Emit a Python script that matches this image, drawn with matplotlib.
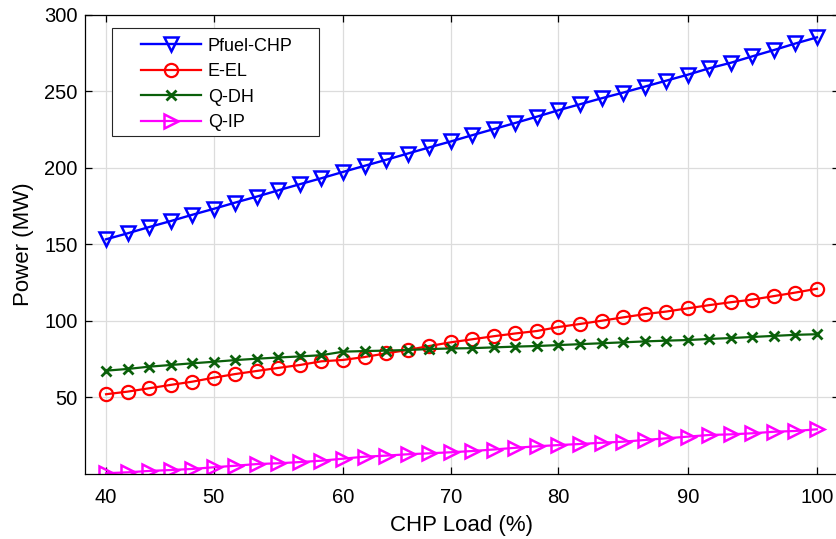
import numpy as np
import matplotlib
matplotlib.use('Agg')
import matplotlib.pyplot as plt
from matplotlib.patches import Rectangle

## data (34 load steps from 40% to 100%)
pfuel_chp = [153.3, 157.2, 161.3, 165.2, 169.3, 173.2, 177.3, 181.2, 185.3, 189.3,
             193.2, 197.3, 201.3, 205.2, 209.3, 213.3, 217.2, 221.3, 225.3, 229.3,
             233.4, 237.6, 241.5, 245.4, 249.1, 253.0, 256.9, 260.8, 265.0, 268.6,
             272.8, 276.9, 281.2, 285.2]
e_el = [52.1, 53.8, 56.0, 58.2, 60.3, 62.9, 65.3, 67.3, 69.3, 71.2,
        73.6, 74.5, 76.4, 78.8, 81.0, 83.6, 86.0, 88.0, 90.0, 91.8,
        93.4, 96.0, 98.0, 100.1, 102.3, 104.4, 106.1, 108.2, 110.3, 112.2,
        113.9, 116.2, 118.5, 121.0]
q_dh = [67.5, 68.6, 70.1, 71.2, 72.3, 73.3, 74.4, 75.3, 76.1, 76.8,
        77.6, 79.9, 80.3, 80.6, 81.0, 81.6, 82.0, 82.2, 82.7, 83.2,
        83.6, 84.2, 84.8, 85.4, 86.0, 86.6, 87.1, 87.5, 88.2, 88.8,
        89.5, 90.2, 90.9, 91.3]
q_ip = [0.5, 1.1, 2.0, 2.6, 3.3, 4.4, 5.4, 6.5, 7.0, 7.8,
        8.7, 10.0, 11.3, 12.0, 12.9, 13.5, 14.2, 15.0, 16.0, 17.1,
        18.1, 18.9, 19.6, 20.4, 21.1, 22.2, 23.3, 24.4, 25.5, 25.9,
        26.6, 27.6, 28.1, 29.2]

## x ticks sit on these sample indices
tick_idx = [0, 5, 11, 16, 21, 27, 33]
tick_lab = ['40', '50', '60', '70', '80', '90', '100']

plt.rcParams['font.family'] = ['Liberation Sans', 'DejaVu Sans']

W, H = 836, 539
fig = plt.figure(figsize=(W / 100, H / 100), dpi=100)
ax = fig.add_axes([84.5 / W, 65 / H, 754 / W, 459.3 / H])

x = np.arange(len(pfuel_chp))
ax.plot(x, pfuel_chp, color='#0000ff', lw=1.7, marker='v', ms=10, mfc='none', mew=1.8, label='Pfuel-CHP')
ax.plot(x, e_el, color='#ff0000', lw=1.6, marker='o', ms=9.5, mfc='none', mew=1.6, label='E-EL')
ax.plot(x, q_dh, color='#0a600a', lw=1.6, marker='x', ms=6.5, mew=2.0, label='Q-DH')
ax.plot(x, q_ip, color='#ff00ff', lw=1.6, marker='>', ms=10, mfc='none', mew=1.8, label='Q-IP')

ax.set_xlim(-1, 34)
ax.set_ylim(0, 300)
ax.set_xticks(tick_idx)
ax.set_xticklabels(tick_lab)
ax.set_yticks([50, 100, 150, 200, 250, 300])

## matlab-like look
ax.grid(True, color='#dcdcdc', lw=0.9)
ax.set_axisbelow(True)
for s in ax.spines.values():
    s.set_linewidth(0.9)
ax.tick_params(direction='in', length=5, width=0.9, top=True, right=True, labelsize=14.5)
ax.tick_params(axis='x', pad=10)
ax.tick_params(axis='y', pad=5)
ax.set_xlabel('CHP Load (%)', fontsize=16, labelpad=6)
ax.set_ylabel('Power (MW)', fontsize=16, labelpad=7)

## legend box drawn by hand
box = Rectangle((111.7 / W, 1 - 136 / H), (319 - 111.7) / W, (136 - 28.3) / H,
                transform=fig.transFigure, fc='white', ec='#262626', lw=0.8,
                zorder=5, clip_on=False)
ax.add_patch(box)
leg = ax.legend(loc='upper left', bbox_to_anchor=(132 / W, 1 - 28.5 / H),
                bbox_transform=fig.transFigure, frameon=False, borderpad=0,
                handlelength=3.33, handletextpad=0.37, labelspacing=0.47,
                fontsize=13, numpoints=1)
leg.set_zorder(6)

plt.savefig('out.png', dpi=100)
